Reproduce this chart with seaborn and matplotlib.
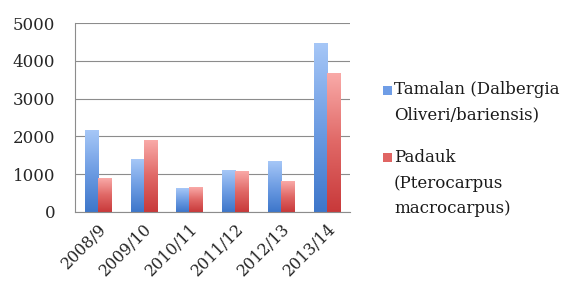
import numpy as np
import pandas as pd
import matplotlib
matplotlib.use("Agg")
import matplotlib.pyplot as plt
import seaborn as sns
from matplotlib.colors import LinearSegmentedColormap
from matplotlib.patches import Rectangle

# Данные
seasons = ["2008/9", "2009/10", "2010/11", "2011/12", "2012/13", "2013/14"]
tamalan = [2150, 1400, 610, 1090, 1340, 4460]
padauk = [890, 1890, 650, 1060, 810, 3660]
series = ["Tamalan (Dalbergia\nOliveri/bariensis)", "Padauk\n(Pterocarpus\nmacrocarpus)"]

df = pd.DataFrame({
    "season": seasons * 2,
    "value": tamalan + padauk,
    "species": [series[0]] * len(seasons) + [series[1]] * len(seasons),
})

sns.set_style("white")
plt.rcParams["font.family"] = ["DejaVu Serif"]

fig = plt.figure(figsize=(5.67, 2.88), dpi=100)
ax = fig.add_axes([0.132, 0.264, 0.485, 0.656])

ax = sns.barplot(data=df, x="season", y="value", hue="species",
                 palette=["#6f9de6", "#e06563"], width=0.57, ax=ax,
                 legend=False, saturation=1)

# Градиентная заливка столбцов, как в Excel
grads = {
    0: LinearSegmentedColormap.from_list("b", ["#3d76ca", "#6e9de3", "#a6c7f7"]),
    1: LinearSegmentedColormap.from_list("r", ["#c8393a", "#e06866", "#f9aaa8"]),
}
grad = np.linspace(0, 1, 256).reshape(-1, 1)
n = len(seasons)
for i, bar in enumerate(ax.patches[:2 * n]):
    x0, w, h = bar.get_x(), bar.get_width(), bar.get_height()
    bar.set_facecolor("none")
    bar.set_edgecolor("none")
    ax.imshow(grad, extent=[x0, x0 + w, 0, h], origin="lower", aspect="auto",
              cmap=grads[i // n], zorder=2)

ax.set_xlim(-0.5, n - 0.5)
ax.set_ylim(0, 5000)
ax.set_yticks(range(0, 5001, 1000))
ax.yaxis.grid(True, color="#8c8c8c", linewidth=0.8)
ax.set_axisbelow(True)
ax.set_xlabel("")
ax.set_ylabel("")

# Засечки между категориями
ax.set_xticks(range(n))
ax.set_xticklabels(seasons, rotation=45, ha="right", rotation_mode="anchor", fontsize=11.5)
ax.set_xticks(np.arange(-0.5, n, 1), minor=True)
ax.tick_params(axis="x", which="major", length=0, pad=6)
ax.tick_params(axis="x", which="minor", length=5, color="#8c8c8c", direction="out")
ax.tick_params(axis="y", labelsize=12, length=0, pad=14)

for s in ["top", "right"]:
    ax.spines[s].set_visible(False)
for s in ["left", "bottom"]:
    ax.spines[s].set_color("#8c8c8c")
    ax.spines[s].set_linewidth(0.8)

# Легенда: квадратик у первой строки, большой межстрочный интервал
W, H = 567, 288
legend_items = [(series[0], "#6f9de6", 90, 102.5), (series[1], "#e06563", 157, 183)]
for label, color, sq_y, txt_y in legend_items:
    fig.patches.append(Rectangle((383 / W, 1 - (sq_y + 4.5) / H), 9 / W, 9 / H,
                                 transform=fig.transFigure, facecolor=color,
                                 edgecolor="none"))
    fig.text(394 / W, 1 - txt_y / H, label, va="center", ha="left",
             fontsize=12, linespacing=1.62, color="#1a1a1a")

plt.savefig("out.png", dpi=100)
